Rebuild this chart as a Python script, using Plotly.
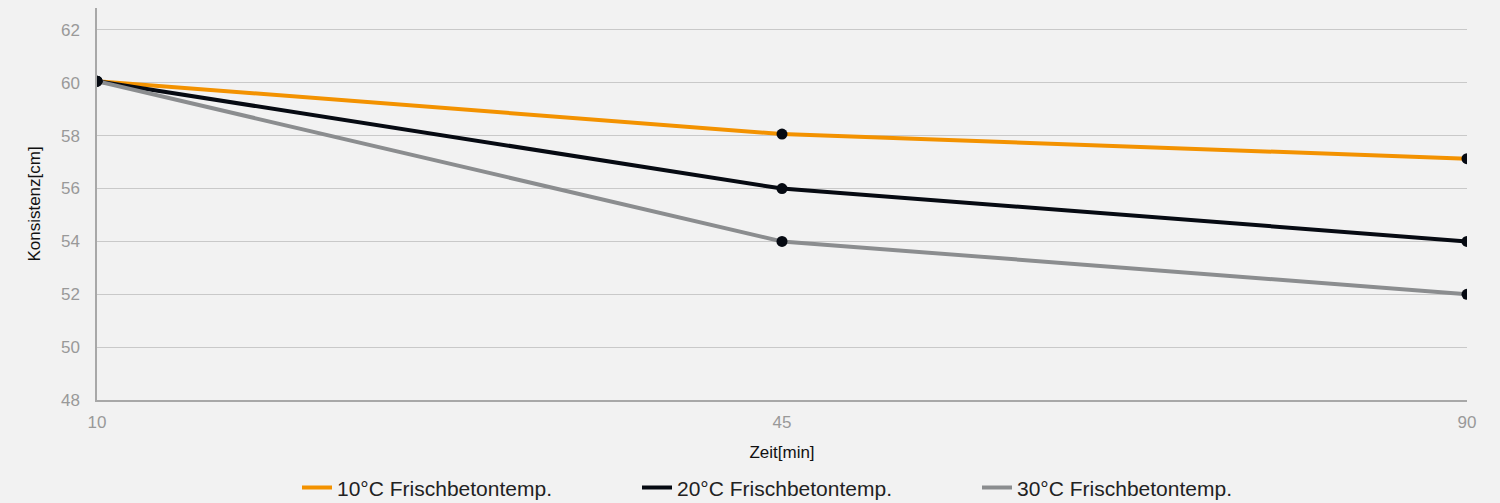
import plotly.graph_objects as go

zeit = ["10", "45", "90"]
s10 = [60.06, 58.06, 57.13]
s20 = [60.06, 56.0, 54.0]
s30 = [60.06, 54.0, 52.0]
names = ["10°C Frischbetontemp.", "20°C Frischbetontemp.", "30°C Frischbetontemp."]
colors = ["#f39200", "#060a12", "#8b8d8f"]
y_ticks = [48, 50, 52, 54, 56, 58, 60, 62]

fig = go.Figure()
for vals, name, col in zip([s10, s20, s30], names, colors):
    fig.add_trace(go.Scatter(
        x=zeit, y=vals, name=name, mode="lines",
        line=dict(color=col, width=4), legendgroup=name,
    ))
for vals, name in zip([s10, s20, s30], names):
    fig.add_trace(go.Scatter(
        x=zeit, y=vals, name=name, mode="markers", showlegend=False,
        marker=dict(color="#060a12", size=11), legendgroup=name,
    ))

fig.update_layout(
    width=1500, height=503,
    margin=dict(l=97, r=33, t=8, b=103, autoexpand=False),
    paper_bgcolor="#f2f2f2", plot_bgcolor="#f2f2f2",
    font=dict(family="Arial, Liberation Sans, sans-serif", color="#111"),
    showlegend=True,
    legend=dict(orientation="h", xref="container", x=0.198, xanchor="left",
                yref="container", y=0.03, yanchor="middle",
                font=dict(size=21, color="#222"), itemwidth=30,
                entrywidth=295, entrywidthmode="pixels",
                traceorder="normal", itemclick=False),
    xaxis=dict(type="category", range=[0, 2], showgrid=False, showline=True,
               linecolor="#a8a8a8", linewidth=1.5, zeroline=False,
               tickfont=dict(size=17, color="#999"), ticklabelstandoff=6,
               title=dict(text="Zeit[min]", font=dict(size=17, color="#111"), standoff=15)),
    yaxis=dict(range=[48, 62.83], tickvals=y_ticks, showgrid=True, gridcolor="#c9c9c9",
               gridwidth=1, showline=True, linecolor="#a8a8a8", linewidth=1.5,
               zeroline=False, tickfont=dict(size=17, color="#999"), ticklabelstandoff=12,
               title=dict(text="Konsistenz[cm]", font=dict(size=17, color="#111"), standoff=16)),
)

fig.write_html(
    "out.html",
    config={"displayModeBar": False},
    post_script="document.body.style.margin='0';document.body.style.background='#f2f2f2';",
)
